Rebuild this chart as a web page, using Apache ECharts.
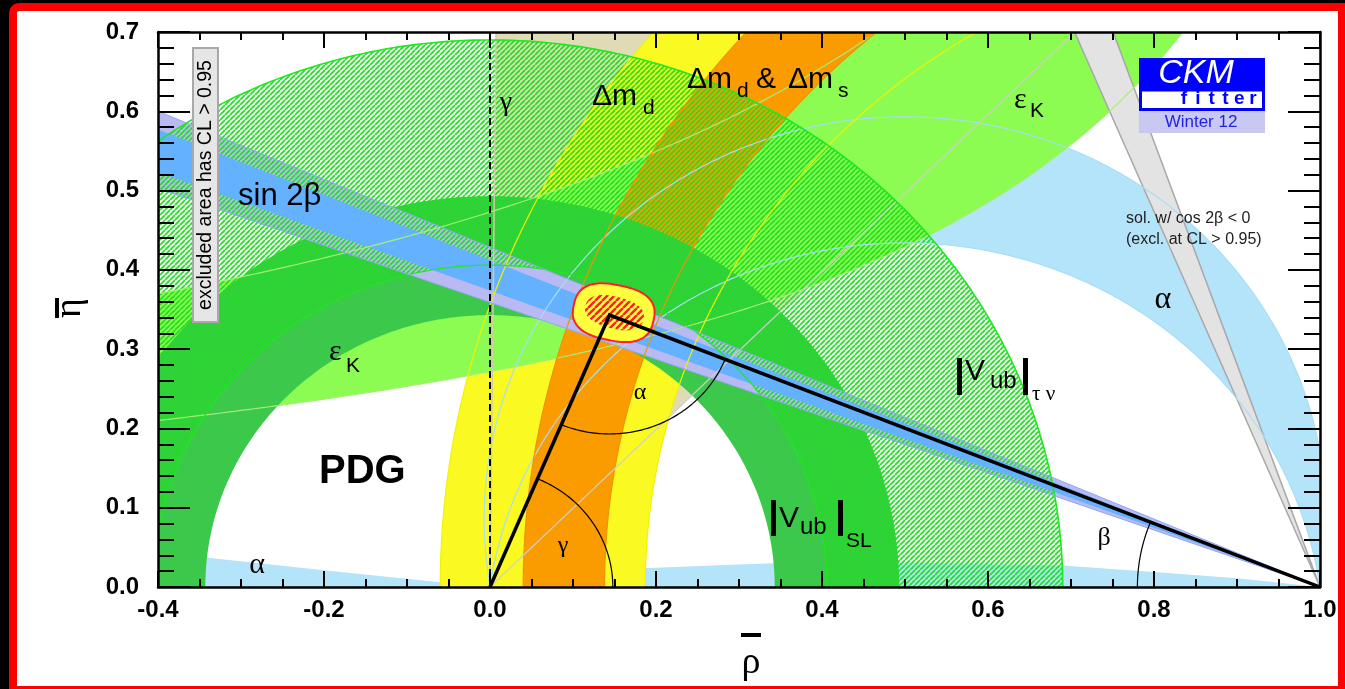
<!DOCTYPE html>
<html><head><meta charset="utf-8">
<script src="https://cdn.jsdelivr.net/npm/echarts@6/dist/echarts.min.js"></script>
<style>
html,body{margin:0;padding:0;background:#000;width:1345px;height:689px;overflow:hidden}
#frame{position:absolute;left:9px;top:3px;width:1336px;height:686px;box-sizing:border-box;border:8px solid #ff0000;border-right-width:7px;border-bottom-width:3px;border-top-left-radius:10px;background:#fff}
#chart{position:absolute;left:0;top:0;width:1345px;height:689px}
</style></head><body><div id="frame"></div><div id="chart"></div>
<script>
// ---------------- values ----------------
const xTickLabels = ['-0.4','-0.2','0.0','0.2','0.4','0.6','0.8','1.0'];
const yTickLabels = ['0.0','0.1','0.2','0.3','0.4','0.5','0.6','0.7'];
const rhoRange = [-0.4, 1.0];
const etaRange = [0, 0.7];

const gammaRaysDeg = [44.8, 89.4];              // gamma wedge, rays from (0,0)
const alphaOuterCircle = [0.5, 0.086, 0.507];   // [centre rho, centre eta, radius]
const alphaInnerCircle = [0.5, -0.071, 0.505];
const alphaSliverRho = [-0.42, -0.34, -0.2, -0.06, 0.0, 0.19, 0.34, 0.5, 0.69, 0.8, 0.9, 1.0];
const alphaSliverEta = [0.048, 0.037, 0.021, 0.006, 0.0, 0.024, 0.030, 0.031, 0.027, 0.019, 0.011, 0.0];
const dmdOuterCircle = [1.022, 1.082];          // [centre rho, radius]
const dmdInnerCircle = [1.0, 0.813];
const dmsOuterCircle = [1.085, 1.045];
const dmsInnerCircle = [1.049, 0.911];
const epsKLower = [1.364, 0.3705];              // eta = b / (c - rho) : [c, b]
const epsKUpper = [1.436, 0.679];
const vubSLRadii = [0.343, 0.493];
const vubTauNuRadii = [0.406, 0.69];
const sin2bOuterDeg = [19.75, 23.2];            // rays from (1,0)
const sin2bInnerDeg = [20.5, 22.4];
const cos2bNegDeg = [67.1, 70.4];
const apex = [0.144, 0.343];
const fitOuter = [0.149, 0.346, 0.049, 0.035, -12];   // centre, semi-axes, tilt (deg)
const fitCore  = [0.150, 0.346, 0.036, 0.020, -15];
const angleArcRadii = [0.148, 0.15, 0.22];      // gamma, alpha, beta

// ---------------- helpers ----------------
const D2R = Math.PI / 180;
function circlePts(cx, cy, r, a0, a1, n) {
  n = n || 240; const p = [];
  for (let i = 0; i <= n; i++) { const a = a0 + (a1 - a0) * i / n; p.push([cx + r * Math.cos(a), cy + r * Math.sin(a)]); }
  return p;
}
function annulus(c1, r1, c2, r2) {
  return circlePts(c1, 0, r1, 0, Math.PI).concat(circlePts(c2, 0, r2, Math.PI, 0));
}
function rayFrom1(t, L) { return [1 - L * Math.cos(t * D2R), L * Math.sin(t * D2R)]; }
function rayFrom0(t, L) { return [L * Math.cos(t * D2R), L * Math.sin(t * D2R)]; }
function hyper(par, r) { return Math.min(0.95, par[1] / (par[0] - r)); }
function ellipsePts(e, pw) {
  const p = [], n = 120, ph = e[4] * D2R;
  for (let i = 0; i <= n; i++) {
    const t = 2 * Math.PI * i / n, c = Math.cos(t), s = Math.sin(t);
    const x = e[2] * Math.sign(c) * Math.pow(Math.abs(c), 2 / pw);
    const y = e[3] * Math.sign(s) * Math.pow(Math.abs(s), 2 / pw);
    p.push([e[0] + x * Math.cos(ph) - y * Math.sin(ph), e[1] + x * Math.sin(ph) + y * Math.cos(ph)]);
  }
  return p;
}
function hatch(color, size, lw, dir) {
  const c = document.createElement('canvas'); c.width = c.height = size;
  const g = c.getContext('2d'); g.strokeStyle = color; g.lineWidth = lw; g.beginPath();
  for (let k = -1; k <= 1; k++) {
    if (dir === '/') { g.moveTo(k * size, size); g.lineTo(k * size + size, 0); }
    else { g.moveTo(k * size, 0); g.lineTo(k * size + size, size); }
  }
  g.stroke(); return c;
}
const greenHatch = { image: hatch('#1ee01e', 5, 1.7, '/'), repeat: 'repeat' };
const redHatch = { image: hatch('#ff2020', 7, 2.4, '/'), repeat: 'repeat' };

// ---------------- layers ----------------
const series = [];
function layer(builder) {
  const idx = series.length;
  series.push({
    type: 'custom', coordinateSystem: 'cartesian2d', xAxisIndex: 0, yAxisIndex: 0,
    data: [[0, 0]], clip: true, silent: true, animation: false, z: 2 + idx,
    renderItem: function (params, api) {
      const P = pts => pts.map(q => api.coord(q));
      return { type: 'group', children: builder(P) };
    }
  });
}
const poly = (pts, fill) => ({ type: 'polygon', shape: { points: pts }, style: { fill: fill, stroke: null } });
const line = (pts, stroke, lw, dash) => ({ type: 'polyline', shape: { points: pts }, style: { stroke: stroke, lineWidth: lw, fill: null, lineDash: dash || null } });
function epsKCurves() {
  const lo = [], up = [];
  for (let k = 0; k <= 200; k++) { const r = -0.5 + 1.6 * k / 200; lo.push([r, hyper(epsKLower, r)]); up.push([r, hyper(epsKUpper, r)]); }
  return [lo, up];
}
function alphaArcs() {
  const o = alphaOuterCircle, i = alphaInnerCircle;
  const ao = Math.asin(o[1] / o[2]), ai = Math.asin(-i[1] / i[2]);
  return [circlePts(o[0], o[1], o[2], -ao, Math.PI + ao), circlePts(i[0], i[1], i[2], Math.PI - ai, ai)];
}

// gamma wedge
layer(P => [poly(P([[0, 0], rayFrom0(gammaRaysDeg[0], 2), rayFrom0(gammaRaysDeg[1], 2)]), '#dfdcb5')]);
// alpha
layer(P => {
  const a = alphaArcs();
  const sl = [[alphaSliverRho[0], 0]].concat(alphaSliverRho.map((r, k) => [r, alphaSliverEta[k]]));
  return [poly(P(a[0].concat(a[1])), '#b3e4fa'), poly(P(sl), '#b3e4fa')];
});
// Delta m_d
layer(P => [poly(P(annulus(dmdOuterCircle[0], dmdOuterCircle[1], dmdInnerCircle[0], dmdInnerCircle[1])), '#fafa22')]);
// eps_K
layer(P => { const c = epsKCurves(); return [poly(P(c[0].concat(c[1].slice().reverse())), '#8cfb52')]; });
// Delta m_d & Delta m_s
layer(P => [poly(P(annulus(dmsOuterCircle[0], dmsOuterCircle[1], dmsInnerCircle[0], dmsInnerCircle[1])), '#fa9b00')]);
// |Vub| SL
layer(P => [poly(P(annulus(0, vubSLRadii[1], 0, vubSLRadii[0])), '#3cc84b')]);
// sin 2beta outer (lavender)
layer(P => [poly(P([[1, 0], rayFrom1(sin2bOuterDeg[0], 2), rayFrom1(sin2bOuterDeg[1], 2)]), '#b9b9f4')]);
// cos 2beta < 0 wedge
layer(P => [
  poly(P([[1, 0], rayFrom1(cos2bNegDeg[0], 2), rayFrom1(cos2bNegDeg[1], 2)]), '#e3e3e3'),
  line(P([rayFrom1(cos2bNegDeg[0], 2), [1, 0], rayFrom1(cos2bNegDeg[1], 2)]), '#a8a8a8', 1.5)
]);
// |Vub| tau nu hatch
layer(P => [poly(P(annulus(0, vubTauNuRadii[1], 0, vubTauNuRadii[0])), greenHatch)]);
// sin 2beta inner (blue)
layer(P => [poly(P([[1, 0], rayFrom1(sin2bInnerDeg[0], 2), rayFrom1(sin2bInnerDeg[1], 2)]), '#64b2ff')]);
// contour lines
layer(P => {
  const a = alphaArcs(), c = epsKCurves();
  return [
    line(P(a[0]), '#a8def5', 1.2), line(P(a[1]), '#a8def5', 1.2),
    line(P(c[0]), '#a4ee78', 1.2), line(P(c[1]), '#a4ee78', 1.2),
    line(P(circlePts(dmdOuterCircle[0], 0, dmdOuterCircle[1], 0, Math.PI)), '#f2f200', 1.2),
    line(P(circlePts(dmdInnerCircle[0], 0, dmdInnerCircle[1], 0, Math.PI)), '#f2f200', 1.2),
    line(P(circlePts(dmsOuterCircle[0], 0, dmsOuterCircle[1], 0, Math.PI)), '#ef9400', 1.2),
    line(P(circlePts(dmsInnerCircle[0], 0, dmsInnerCircle[1], 0, Math.PI)), '#ef9400', 1.2),
    line(P([[0, 0], rayFrom0(gammaRaysDeg[0], 2)]), '#cfcfc8', 1.2),
    line(P([[0, 0], rayFrom0(gammaRaysDeg[1], 2)]), '#d2cca2', 1.5),
    line(P(circlePts(0, 0, vubTauNuRadii[1], 0, Math.PI)), '#1ee81e', 1.6),
    line(P(circlePts(0, 0, vubTauNuRadii[0], 0, Math.PI)), '#1ee81e', 1.2),
    line(P([rayFrom1(sin2bOuterDeg[0], 2), [1, 0], rayFrom1(sin2bOuterDeg[1], 2)]), '#8fa8f0', 1)
  ];
});
// global fit
layer(P => [
  { type: 'polygon', shape: { points: P(ellipsePts(fitOuter, 2.6)) }, style: { fill: '#ffff40', stroke: '#ff2020', lineWidth: 2 } },
  poly(P(ellipsePts(fitCore, 2.4)), redHatch)
]);
// unitarity triangle and angles
layer(P => {
  const aO = Math.atan2(-apex[1], -apex[0]), a1 = Math.atan2(-apex[1], 1 - apex[0]);
  const g = Math.atan2(apex[1], apex[0]), b = Math.atan2(apex[1], 1 - apex[0]);
  return [
    line(P([[0, 0], apex, [1, 0]]), '#000', 3.5),
    line(P(circlePts(0, 0, angleArcRadii[0], 0, g, 60)), '#000', 1.2),
    line(P(circlePts(apex[0], apex[1], angleArcRadii[1], aO, a1, 80)), '#000', 1.2),
    line(P(circlePts(1, 0, angleArcRadii[2], Math.PI, Math.PI - b, 40)), '#000', 1.2),
    line(P([[0, 0], [0, 0.7]]), '#000', 2, [7, 4])
  ];
});

// ---------------- annotations (pixel layout) ----------------
const SANS = '"Liberation Sans", Arial, sans-serif';
const SERIF = '"Liberation Serif", "Times New Roman", serif';
function txt(s, x, y, font, opt) {
  opt = opt || {};
  return { type: 'text', x: x, y: y, rotation: opt.rot || 0, z: 100, silent: true,
    style: { text: s, font: font, fill: opt.fill || '#000', align: opt.align || 'left', verticalAlign: 'middle' } };
}
function rect(x, y, w, h, fill, stroke, lw) {
  return { type: 'rect', z: 99, silent: true, shape: { x: x, y: y, width: w, height: h }, style: { fill: fill, stroke: stroke || null, lineWidth: lw || 0 } };
}
const G = [];
G.push(txt('γ', 506, 103, '28px ' + SERIF, { align: 'center' }));
G.push(txt('Δm', 592, 97, '30px ' + SANS), txt('d', 643, 108, '21px ' + SANS));
G.push(txt('Δm', 687, 80, '30px ' + SANS), txt('d', 737, 91, '21px ' + SANS));
G.push(txt('&', 756, 80, '30px ' + SANS), txt('Δm', 788, 80, '30px ' + SANS), txt('s', 838, 91, '21px ' + SANS));
G.push(txt('ε', 1014, 100, '30px ' + SERIF), txt('K', 1030, 111, '21px ' + SANS));
G.push(txt('sin 2β', 238, 196, '31px ' + SANS));
G.push(txt('ε', 329, 352, '30px ' + SERIF), txt('K', 346, 366, '21px ' + SANS));
G.push(txt('PDG', 319, 472, 'bold 40px ' + SANS));
G.push(txt('α', 257, 565, '30px ' + SERIF, { align: 'center' }));
G.push(txt('α', 640, 393, '24px ' + SERIF, { align: 'center' }));
G.push(txt('γ', 563, 546, '24px ' + SERIF, { align: 'center' }));
G.push(txt('β', 1104, 538, '26px ' + SERIF, { align: 'center' }));
G.push(txt('α', 1163, 300, '32px ' + SERIF, { align: 'center' }));
// |Vub|SL
G.push(rect(771, 500, 5, 36, '#000'), txt('V', 779, 519, '30px ' + SANS), txt('ub', 800, 527, '24px ' + SANS), rect(838, 500, 5, 36, '#000'), txt('SL', 846, 541, '21px ' + SANS));
// |Vub|tau nu
G.push(rect(957, 358, 5, 37, '#000'), txt('V', 965, 372, '30px ' + SANS), txt('ub', 990, 381, '24px ' + SANS), rect(1023, 358, 5, 37, '#000'), txt('τ ν', 1032, 394, '21px ' + SERIF));
// cos2beta note
G.push(txt('sol. w/ cos 2β < 0', 1126, 219, '16px ' + SANS, { fill: '#222' }), txt('(excl. at CL > 0.95)', 1126, 240, '16px ' + SANS, { fill: '#222' }));
// CKMfitter logo
G.push(rect(1139, 58, 126, 32, '#0000ff'), txt('CKM', 1196, 74, 'italic 34px ' + SANS, { fill: '#fff', align: 'center' }));
G.push(rect(1140.5, 90, 123, 19.5, '#fff', '#0000ff', 3));
'fitter'.split('').forEach((c, k) => G.push(txt(c, 1184 + k * 13.8, 99, 'bold 19px ' + SANS, { fill: '#0000ff', align: 'center' })));
G.push(rect(1139, 111, 126, 22, '#c8c8f2'), txt('Winter 12', 1201, 122, '17px ' + SANS, { fill: '#2222e6', align: 'center' }));
// excluded-area box
G.push(rect(193, 48, 25, 274, '#e6e6e6', '#a9a9a9', 2));
G.push(txt('excluded area has CL > 0.95', 206, 185, '19.5px ' + SANS, { align: 'center', rot: Math.PI / 2 }));
// axis titles
G.push(txt('ρ', 751, 663, '38px ' + SERIF, { align: 'center' }), rect(741, 633, 20, 4, '#000'));
G.push(txt('η', 70, 308, '38px ' + SERIF, { align: 'center', rot: Math.PI / 2 }), rect(55, 298, 4, 20, '#000'));

// ---------------- chart ----------------
const labelFont = { color: '#000', fontWeight: 'bold', fontSize: 24, fontFamily: 'Liberation Sans' };
const axisLine = { show: true, onZero: false, lineStyle: { color: '#000', width: 2.5 } };
function xAx(pos, show) {
  return { type: 'value', position: pos, min: rhoRange[0], max: rhoRange[1], interval: 0.2, z: 50,
    axisLine: axisLine, splitLine: { show: false },
    axisTick: { show: true, inside: true, length: 16, lineStyle: { color: '#000', width: 2 } },
    minorTick: { show: true, splitNumber: 4, length: 8, lineStyle: { color: '#000', width: 2 } },
    axisLabel: Object.assign({ show: show, margin: 11, formatter: v => xTickLabels[Math.round((v - rhoRange[0]) / 0.2)] }, labelFont) };
}
function yAx(pos, show) {
  return { type: 'value', position: pos, min: etaRange[0], max: etaRange[1], interval: 0.1, z: 50,
    axisLine: axisLine, splitLine: { show: false },
    axisTick: { show: true, inside: true, length: 32, lineStyle: { color: '#000', width: 2 } },
    minorTick: { show: true, splitNumber: 5, length: 16, lineStyle: { color: '#000', width: 2 } },
    axisLabel: Object.assign({ show: show, margin: 19, formatter: v => yTickLabels[Math.round(v / 0.1)] }, labelFont) };
}
const chart = echarts.init(document.getElementById('chart'), null, { renderer: 'canvas', width: 1345, height: 689 });
chart.setOption({
  animation: false,
  grid: { left: 158, top: 32, width: 1162, height: 555, containLabel: false },
  xAxis: [xAx('bottom', true), xAx('top', false)],
  yAxis: [yAx('left', true), yAx('right', false)],
  series: series,
  graphic: { elements: G }
});
</script></body></html>
